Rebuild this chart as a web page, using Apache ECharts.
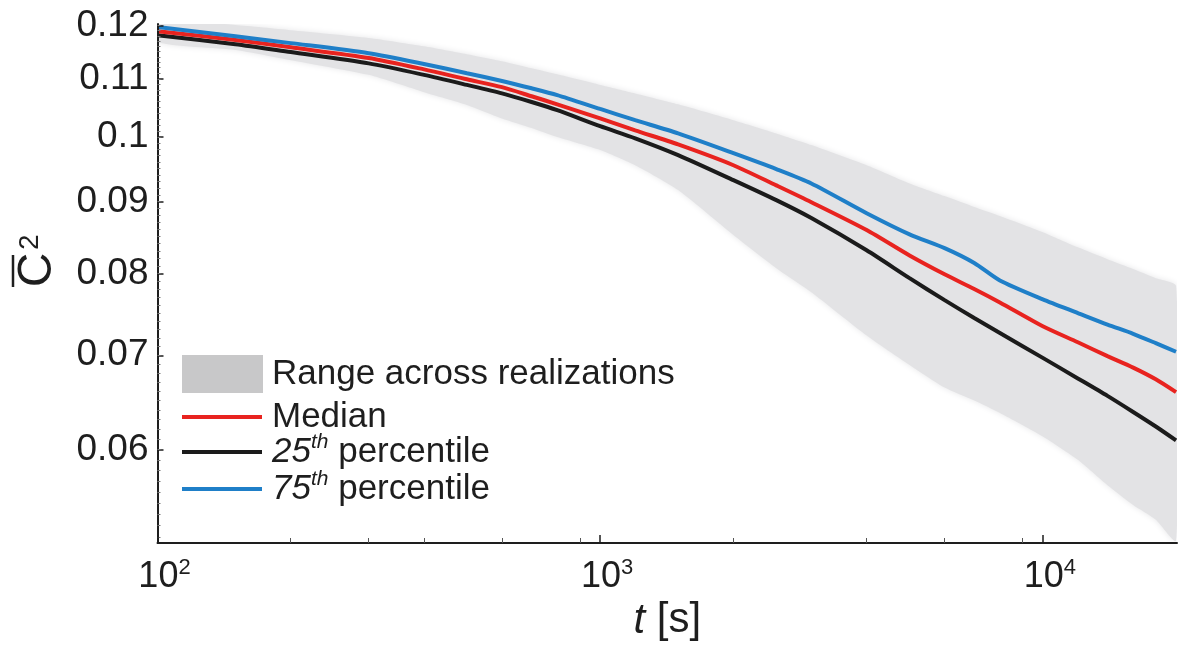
<!doctype html>
<html>
<head>
<meta charset="utf-8">
<title>C2 vs t</title>
<style>
    html, body { margin: 0; padding: 0; background: #fff; }
    #chart { width: 1189px; height: 650px; }
</style>
</head>
<body>
<div id="chart"></div>
<script src="https://cdn.jsdelivr.net/npm/echarts@6/dist/echarts.min.js"></script>
<script>
    // time points [s]
    var times = [100, 150, 200, 300, 400, 500, 600, 700, 800, 1000, 1200, 1500, 2000,
                 2500, 3000, 4000, 5000, 6000, 7000, 8000, 10000, 12000, 14000, 16000, 18000, 20000];
    // range across realizations (lower / upper edge)
    var rangeLow  = [0.1168, 0.1153, 0.1134, 0.1107, 0.1076, 0.1054, 0.1031, 0.1015, 0.1000, 0.0979, 0.0955, 0.0917, 0.0852,
                     0.0807, 0.0776, 0.0723, 0.0689, 0.0664, 0.0650, 0.0637, 0.0613, 0.0590, 0.0566, 0.0548, 0.0535, 0.0517];
    var rangeHigh = [0.1211, 0.1201, 0.1191, 0.1176, 0.1160, 0.1145, 0.1132, 0.1119, 0.1108, 0.1089, 0.1074, 0.1055, 0.1028,
                     0.1006, 0.0987, 0.0955, 0.0927, 0.0908, 0.0892, 0.0879, 0.0856, 0.0835, 0.0819, 0.0806, 0.0794, 0.0784];
    var median    = [0.1189, 0.1172, 0.1158, 0.1138, 0.1117, 0.1099, 0.1085, 0.1069, 0.1055, 0.1031, 0.1011, 0.0988, 0.0955,
                     0.0924, 0.0899, 0.0859, 0.0824, 0.0799, 0.0780, 0.0763, 0.0734, 0.0715, 0.0699, 0.0686, 0.0673, 0.0659];
    var p25       = [0.1181, 0.1164, 0.1149, 0.1128, 0.1107, 0.1089, 0.1074, 0.1059, 0.1045, 0.1018, 0.0998, 0.0971, 0.0932,
                     0.0902, 0.0876, 0.0831, 0.0794, 0.0766, 0.0744, 0.0726, 0.0697, 0.0674, 0.0655, 0.0638, 0.0623, 0.0609];
    var p75       = [0.1197, 0.1179, 0.1166, 0.1147, 0.1127, 0.1110, 0.1096, 0.1083, 0.1071, 0.1047, 0.1028, 0.1006, 0.0974,
                     0.0949, 0.0927, 0.0883, 0.0853, 0.0834, 0.0814, 0.0791, 0.0767, 0.0750, 0.0736, 0.0725, 0.0714, 0.0704];
    // tick labels
    var yTicks = [0.06, 0.07, 0.08, 0.09, 0.1, 0.11, 0.12];
    var xTicks = [100, 1000, 10000];
    var xMinorTicks = [200, 300, 400, 600, 900, 2000, 4000, 6000, 9000];
    var yMinorTicks = [];
    for (var k = 52; k <= 120; k++) { yMinorTicks.push(k / 1000); }

    var FONT = '"Liberation Sans", Arial, sans-serif';
    var INK = '#1e1e1e';
    var xMin = 100, xMax = 20100, yMin = 0.0515, yMax = 0.1203;

    function pairs(ys) {
        return times.map(function (t, i) { return [t, ys[i]]; });
    }

    var myChart = echarts.init(document.getElementById('chart'));

    var option = {
        backgroundColor: '#fff',
        animation: false,
        grid: { left: 157.5, right: 12, top: 24, bottom: 107 },
        xAxis: [{
            type: 'log', logBase: 10, min: xMin, max: xMax, z: 10,
            axisLine: { lineStyle: { color: INK, width: 2 } },
            axisTick: { inside: true, length: 8, customValues: xTicks, lineStyle: { color: INK, width: 1.5 } },
            axisLabel: {
                customValues: xTicks, margin: 14, padding: [0, 0, 0, 14], color: INK,
                formatter: function (v) { return '{b|10}{s|' + Math.round(Math.log10(v)) + '}'; },
                rich: {
                    b: { fontSize: 36, fontFamily: FONT, color: INK, lineHeight: 40 },
                    s: { fontSize: 22, fontFamily: FONT, color: INK, lineHeight: 40, verticalAlign: 'top' }
                }
            },
            splitLine: { show: false },
            name: '{it|t} [s]', nameLocation: 'middle', nameGap: 52,
            nameTextStyle: {
                fontSize: 42, fontFamily: FONT, color: INK,
                rich: { it: { fontSize: 42, fontFamily: FONT, fontStyle: 'italic', color: INK } }
            }
        }, {
            type: 'log', logBase: 10, min: xMin, max: xMax, position: 'bottom', z: 10,
            axisLine: { show: false }, axisLabel: { show: false }, splitLine: { show: false },
            axisTick: { inside: true, length: 5, customValues: xMinorTicks, lineStyle: { color: '#555', width: 1 } }
        }],
        yAxis: [{
            type: 'log', logBase: 10, min: yMin, max: yMax, z: 10,
            axisLine: { show: true, lineStyle: { color: INK, width: 2 } },
            axisTick: { show: true, inside: true, length: 6, customValues: yTicks, lineStyle: { color: INK, width: 1.5 } },
            axisLabel: {
                customValues: yTicks, fontSize: 37, fontFamily: FONT, color: INK, margin: 9,
                formatter: function (v) { return String(+(+v).toFixed(2)); }
            },
            splitLine: { show: false }
        }, {
            type: 'log', logBase: 10, min: yMin, max: yMax, position: 'left', z: 10,
            axisLine: { show: false }, axisLabel: { show: false }, splitLine: { show: false },
            axisTick: { show: true, inside: true, length: 3, customValues: yMinorTicks, lineStyle: { color: '#777', width: 1 } }
        }],
        series: [{
            name: 'Range across realizations',
            type: 'custom',
            xAxisIndex: 0, yAxisIndex: 0,
            silent: true,
            data: times.map(function (t, i) { return [t, rangeLow[i], rangeHigh[i]]; }),
            encode: { x: 0, y: [1, 2] },
            renderItem: function (params, api) {
                if (params.dataIndex !== 0) { return; }
                var pts = [];
                for (var i = 0; i < times.length; i++) { pts.push(api.coord([times[i], rangeHigh[i]])); }
                for (var j = times.length - 1; j >= 0; j--) { pts.push(api.coord([times[j], rangeLow[j]])); }
                var cs = params.coordSys;
                return {
                    type: 'polygon',
                    shape: { points: pts, smooth: 0.2 },
                    style: { fill: '#e3e3e5', shadowBlur: 6, shadowColor: '#e6e6e8' },
                    clipPath: { type: 'rect', shape: { x: cs.x, y: cs.y, width: cs.width, height: cs.height } }
                };
            },
            z: 1
        }, {
            name: '25th percentile', type: 'line', data: pairs(p25), symbol: 'none', smooth: 0.25,
            lineStyle: { color: '#1b1b1b', width: 4 }, z: 3
        }, {
            name: 'Median', type: 'line', data: pairs(median), symbol: 'none', smooth: 0.25,
            lineStyle: { color: '#e8231f', width: 4 }, z: 4
        }, {
            name: '75th percentile', type: 'line', data: pairs(p75), symbol: 'none', smooth: 0.25,
            lineStyle: { color: '#1f7fc8', width: 4 }, z: 5
        }],
        graphic: [
            // y axis title: C-bar squared, rotated
            {
                type: 'group', x: 38, y: 270, rotation: Math.PI / 2,
                children: [
                    { type: 'text', style: { text: 'C', font: '48px ' + FONT, fill: INK, align: 'center', verticalAlign: 'middle' } },
                    { type: 'text', x: 20, y: -8, style: { text: '2', font: '28px ' + FONT, fill: INK, align: 'left', verticalAlign: 'middle' } },
                    { type: 'line', shape: { x1: -17, y1: -25, x2: 15, y2: -25 }, style: { stroke: INK, lineWidth: 2.5 } }
                ]
            },
            // legend
            { type: 'rect', shape: { x: 182, y: 355, width: 81, height: 38 }, style: { fill: '#c8c8c9' }, z: 20 },
            { type: 'text', x: 272, y: 374, z: 20, style: { text: 'Range across realizations', font: '35px ' + FONT, fill: INK, verticalAlign: 'middle' } },
            { type: 'line', shape: { x1: 182, y1: 417, x2: 262, y2: 417 }, style: { stroke: '#e8231f', lineWidth: 4 }, z: 20 },
            { type: 'text', x: 272, y: 417, z: 20, style: { text: 'Median', font: '35px ' + FONT, fill: INK, verticalAlign: 'middle' } },
            { type: 'line', shape: { x1: 182, y1: 452, x2: 262, y2: 452 }, style: { stroke: '#1b1b1b', lineWidth: 4 }, z: 20 },
            {
                type: 'text', x: 272, y: 452, z: 20,
                style: {
                    text: '{n|25}{s|th}{p| percentile}', verticalAlign: 'middle', fill: INK,
                    rich: {
                        n: { fontSize: 35, fontFamily: FONT, fontStyle: 'italic', lineHeight: 40, fill: INK },
                        s: { fontSize: 21, fontFamily: FONT, fontStyle: 'italic', lineHeight: 40, verticalAlign: 'top', fill: INK },
                        p: { fontSize: 35, fontFamily: FONT, lineHeight: 40, fill: INK }
                    }
                }
            },
            { type: 'line', shape: { x1: 182, y1: 489, x2: 262, y2: 489 }, style: { stroke: '#1f7fc8', lineWidth: 4 }, z: 20 },
            {
                type: 'text', x: 272, y: 489, z: 20,
                style: {
                    text: '{n|75}{s|th}{p| percentile}', verticalAlign: 'middle', fill: INK,
                    rich: {
                        n: { fontSize: 35, fontFamily: FONT, fontStyle: 'italic', lineHeight: 40, fill: INK },
                        s: { fontSize: 21, fontFamily: FONT, fontStyle: 'italic', lineHeight: 40, verticalAlign: 'top', fill: INK },
                        p: { fontSize: 35, fontFamily: FONT, lineHeight: 40, fill: INK }
                    }
                }
            }
        ]
    };
    myChart.setOption(option);
</script>
</body>
</html>
